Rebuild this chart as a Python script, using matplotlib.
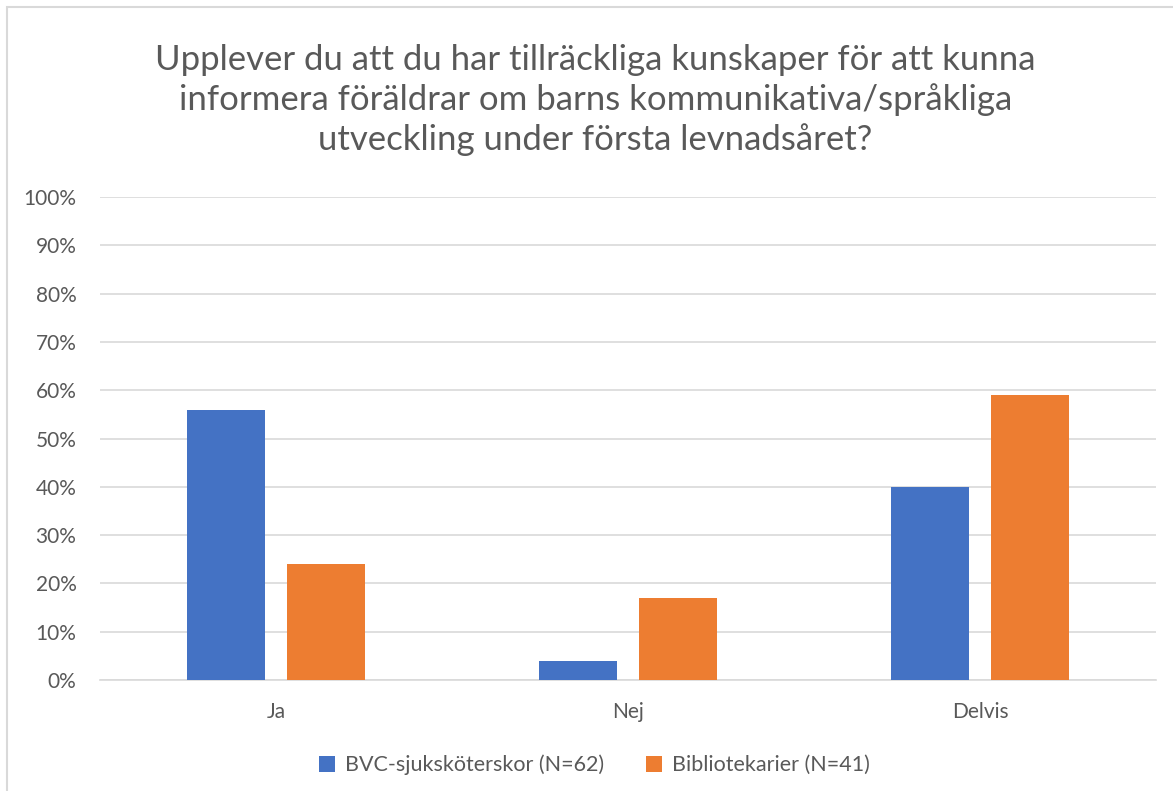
import matplotlib
matplotlib.use("Agg")
import matplotlib.pyplot as plt
import numpy as np
from matplotlib.patches import Rectangle

categories = ["Ja", "Nej", "Delvis"]
series_names = ["BVC-sjuksköterskor (N=62)", "Bibliotekarier (N=41)"]
bvc = [56, 4, 40]
bib = [24, 17, 59]
yticks = [0, 10, 20, 30, 40, 50, 60, 70, 80, 90, 100]
title = ("Upplever du att du har tillräckliga kunskaper för att kunna\n"
         "informera föräldrar om barns kommunikativa/språkliga\n"
         "utveckling under första levnadsåret?")

plt.rcParams['font.family'] = ['Lato', 'DejaVu Sans']
gray = '#595959'

fig = plt.figure(figsize=(11.73, 7.91), dpi=100)
ax = fig.add_axes([100/1173, 1-680/791, (1156-100)/1173, (680-197)/791])

x = np.arange(len(categories))
w = 0.222
off = 0.142
ax.bar(x - off, bvc, w, color='#4472C4', label=series_names[0], zorder=3)
ax.bar(x + off, bib, w, color='#ED7D31', label=series_names[1], zorder=3)

ax.set_xlim(-0.5, 2.5)
ax.set_ylim(0, 100)
ax.set_yticks(yticks)
ax.set_yticklabels([f"{v}%" for v in yticks], color=gray, fontsize=15)
ax.set_xticks(x)
ax.set_xticklabels(categories, color=gray, fontsize=15)
ax.tick_params(axis='x', length=0, pad=16)
ax.tick_params(axis='y', length=0, pad=17)
ax.yaxis.grid(True, color='#D9D9D9', linewidth=1.2, zorder=0)
for s in ['top', 'right', 'left']:
    ax.spines[s].set_visible(False)
ax.spines['bottom'].set_color('#D9D9D9')
ax.spines['bottom'].set_linewidth(1.2)

fig.text(0.5 + 9/1173, 1-100/791, title, ha='center', va='center', fontsize=25,
         color=gray, linespacing=1.25)

leg = fig.legend(loc='center', bbox_to_anchor=(0.5 + 8/1173, 1-765/791), ncol=2,
                 frameon=False, fontsize=15.5, handlelength=0.75, handleheight=0.75,
                 columnspacing=1.95, handletextpad=0.45)
for t in leg.get_texts():
    t.set_color(gray)

fig.patches.append(Rectangle((7/1173, -0.05), 1.2, 1-7/791+0.05, transform=fig.transFigure,
                             fill=False, edgecolor='#D9D9D9', linewidth=1.5))

fig.savefig("out.png", dpi=100)
